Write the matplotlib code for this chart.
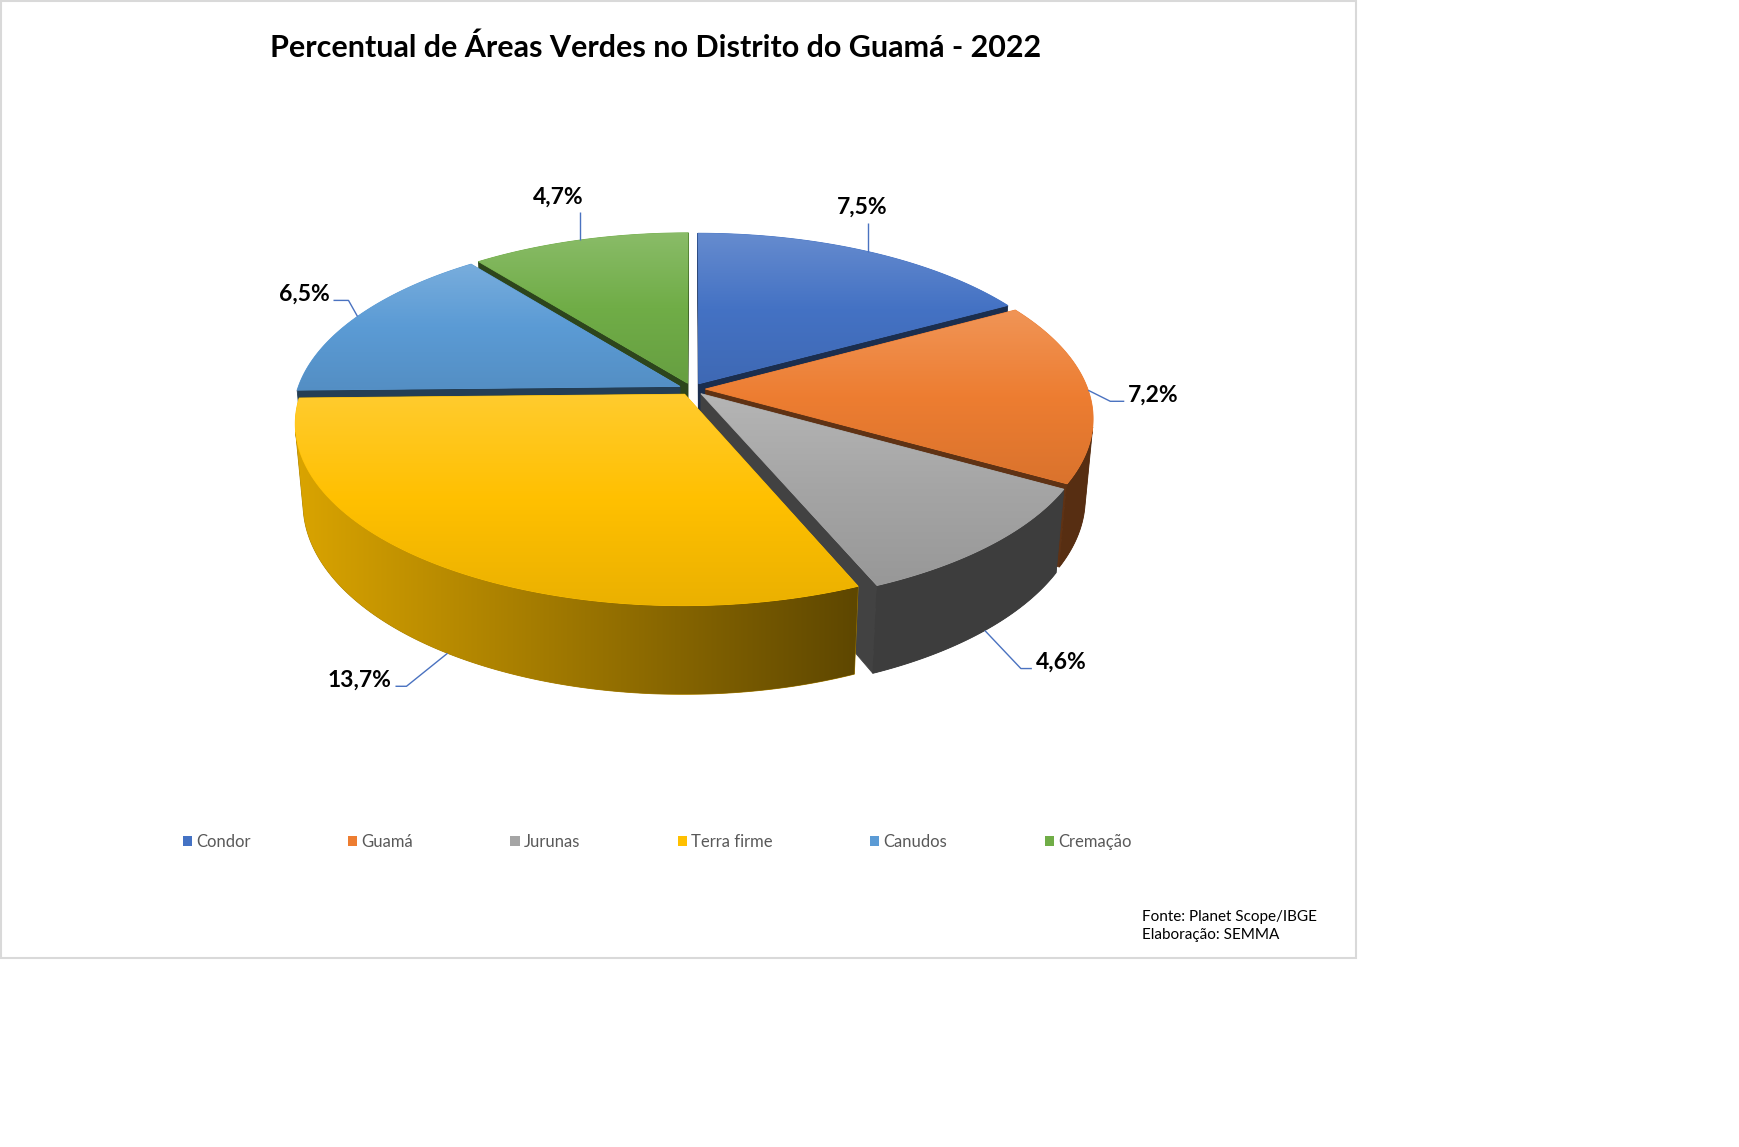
import numpy as np
import matplotlib.pyplot as plt
from matplotlib.patches import Polygon, Rectangle, Patch
from matplotlib.colors import to_rgb

plt.rcParams['font.family'] = ['Lato', 'DejaVu Sans']

# dados
bairros = ['Condor', 'Guamá', 'Jurunas', 'Terra firme', 'Canudos', 'Cremação']
percentuais = [7.5, 7.2, 4.6, 13.7, 6.5, 4.7]
cores = ['#4472C4', '#ED7D31', '#A5A5A5', '#FFC000', '#5B9BD5', '#70AD47']

titulo = 'Percentual de Áreas Verdes no Distrito do Guamá - 2022'
fonte = 'Fonte: Planet Scope/IBGE\nElaboração: SEMMA'

# camera for the 3D pie (pixel units)
CX, CY = 692, 389
FOC = 2134.0
DIST = 5.58
ELEV = np.radians(27.4)
ALT = 0.236    # espessura
EXPL = 0.035   # separacao das fatias

# linhas de chamada: cotovelo (dx, dy), cauda horizontal
guias = [((0, -29), 0), ((22, 11), 14), ((36, 38), 11),
         ((-41, 33), -11), ((-9, -16), -15), ((0, -28), 0)]

cam = np.array([0.0, -DIST * np.cos(ELEV), DIST * np.sin(ELEV)])


def proj(X, Y, Z):
    X = np.asarray(X, float)
    Y = np.asarray(Y, float)
    Z = np.asarray(Z, float)
    yc = Y * np.sin(ELEV) + Z * np.cos(ELEV)
    zc = Y * np.cos(ELEV) - Z * np.sin(ELEV) + DIST
    return CX + FOC * X / zc, CY - FOC * yc / zc


def profundidade(X, Y, Z):
    return Y * np.cos(ELEV) - Z * np.sin(ELEV) + DIST


def escurecer(c, f):
    return np.clip(np.array(to_rgb(c)) * f, 0, 1)


def clarear(c, f):
    c = np.array(to_rgb(c))
    return c + (1 - c) * f


fig = plt.figure(figsize=(17.4, 11.47), dpi=100)
ax = fig.add_axes([0, 0, 1, 1])
ax.axis('off')


def preencher(xs, ys, img, z, base):
    pts = np.column_stack([xs, ys])
    fundo = Polygon(pts, closed=True, facecolor=base, edgecolor=base, lw=0.6, zorder=z)
    ax.add_patch(fundo)
    x0, x1 = xs.min(), xs.max()
    y0, y1 = ys.min(), ys.max()
    im = ax.imshow(img, extent=(x0, x1, y1, y0), origin='upper', aspect='auto',
                   interpolation='bilinear', zorder=z + 0.5)
    im.set_clip_path(fundo)


def fator_parede(x):
    return np.clip(0.85 - 0.48 * (x - 300) / 555, 0.37, 0.85)


total = sum(percentuais)
limites = np.concatenate([[0], np.cumsum(percentuais)]) / total * 360

radiais = []
paredes = []
topos = []
ancoras = []
for i, cor in enumerate(cores):
    a0, a1 = limites[i], limites[i + 1]
    m = np.radians((a0 + a1) / 2)
    ox, oy = EXPL * np.sin(m), EXPL * np.cos(m)
    th = np.radians(np.linspace(a0, a1, 240))

    # paredes radiais
    for a, sg in ((a0, -1), (a1, 1)):
        ar = np.radians(a)
        nrm = np.array([np.sin(ar + sg * np.pi / 2), np.cos(ar + sg * np.pi / 2), 0])
        P = np.array([ox + 0.5 * np.sin(ar), oy + 0.5 * np.cos(ar), -ALT / 2])
        if np.dot(nrm, cam - P) > 0:
            X = [ox, ox + np.sin(ar), ox + np.sin(ar), ox]
            Y = [oy, oy + np.cos(ar), oy + np.cos(ar), oy]
            Z = [0, 0, -ALT, -ALT]
            xs, ys = proj(X, Y, Z)
            radiais.append((profundidade(*P), xs, ys, cor))

    # parede externa
    vis = -(ox * np.sin(th) + oy * np.cos(th)) - 1 - DIST * np.cos(ELEV) * np.cos(th) > 0
    if vis.sum() > 1:
        t = th[vis]
        xt, yt = proj(ox + np.sin(t), oy + np.cos(t), np.zeros_like(t))
        xb, yb = proj(ox + np.sin(t), oy + np.cos(t), np.full_like(t, -ALT))
        xs = np.concatenate([xt, xb[::-1]])
        ys = np.concatenate([yt, yb[::-1]])
        tm = t.mean()
        paredes.append((profundidade(ox + np.sin(tm), oy + np.cos(tm), -ALT / 2), xs, ys, cor))

    # topo
    xa, ya = proj(ox + np.sin(th), oy + np.cos(th), np.zeros_like(th))
    xc, yc = proj(ox, oy, 0.0)
    topos.append((np.concatenate([[xc], xa]), np.concatenate([[yc], ya]), cor))

    # ponto da linha de chamada
    zl = -ALT if np.cos(m) < -0.2 else 0.0
    ancoras.append(proj(ox + np.sin(m), oy + np.cos(m), zl))

z = 2
for _, xs, ys, cor in sorted(radiais, key=lambda r: -r[0]):
    ax.add_patch(Polygon(np.column_stack([xs, ys]), closed=True,
                         facecolor=escurecer(cor, 0.4), edgecolor=escurecer(cor, 0.4),
                         lw=0.6, zorder=z))
    z += 1

for _, xs, ys, cor in sorted(paredes, key=lambda r: -r[0]):
    gx = np.linspace(xs.min(), xs.max(), 200)
    img = np.array([escurecer(cor, f) for f in fator_parede(gx)])[None, :, :]
    preencher(xs, ys, img, z, escurecer(cor, fator_parede(xs.mean())))
    z += 1

for xs, ys, cor in topos:
    tt = np.linspace(0, 1, 120)
    claro, escuro = clarear(cor, 0.18), escurecer(cor, 0.92)
    base = np.array(to_rgb(cor))
    cols = [claro + (base - claro) * (s / 0.5) if s < 0.5 else base + (escuro - base) * ((s - 0.5) / 0.5)
            for s in tt]
    img = np.array(cols)[:, None, :]
    preencher(xs, ys, img, z, cor)
    z += 1

# rotulos com linhas de chamada
for i, v in enumerate(percentuais):
    axp, ayp = ancoras[i]
    (ex, ey), cauda = guias[i]
    px = [axp, axp + ex, axp + ex + cauda]
    py = [ayp, ayp + ey, ayp + ey]
    ax.plot(px, py, color='#4A72C0', lw=1.0, zorder=50, solid_capstyle='butt')
    txt = f'{v:.1f}%'.replace('.', ',')
    if cauda > 0:
        ax.text(px[-1] + 4, py[-1] - 6, txt, ha='left', va='center', fontsize=16.5,
                fontweight='bold', color='black', zorder=51)
    elif cauda < 0:
        ax.text(px[-1] - 4, py[-1] - 6, txt, ha='right', va='center', fontsize=16.5,
                fontweight='bold', color='black', zorder=51)
    else:
        dx = -6 if i == 0 else -21
        ax.text(px[-1] + dx, py[-1] - 15, txt, ha='center', va='center', fontsize=16.5,
                fontweight='bold', color='black', zorder=51)

ax.text(656, 48, titulo, ha='center', va='center', fontsize=22, fontweight='bold', color='black')

alcas = [Patch(facecolor=c, edgecolor='none') for c in cores]
ax.legend(alcas, bairros, loc='center', bbox_to_anchor=(657, 842), bbox_transform=ax.transData,
          ncol=6, frameon=False, fontsize=12, labelcolor='#595959', handlelength=0.55,
          handleheight=0.55, handletextpad=0.25, columnspacing=5.85)

ax.text(1142, 926, fonte, ha='left', va='center', fontsize=11, color='black', linespacing=1.4)

ax.add_patch(Rectangle((1, 1), 1355, 957, facecolor='none', edgecolor='#D9D9D9', lw=1.5, zorder=100))

ax.set_xlim(0, 1740)
ax.set_ylim(1147, 0)
fig.savefig('out.png', dpi=100, facecolor='white')
